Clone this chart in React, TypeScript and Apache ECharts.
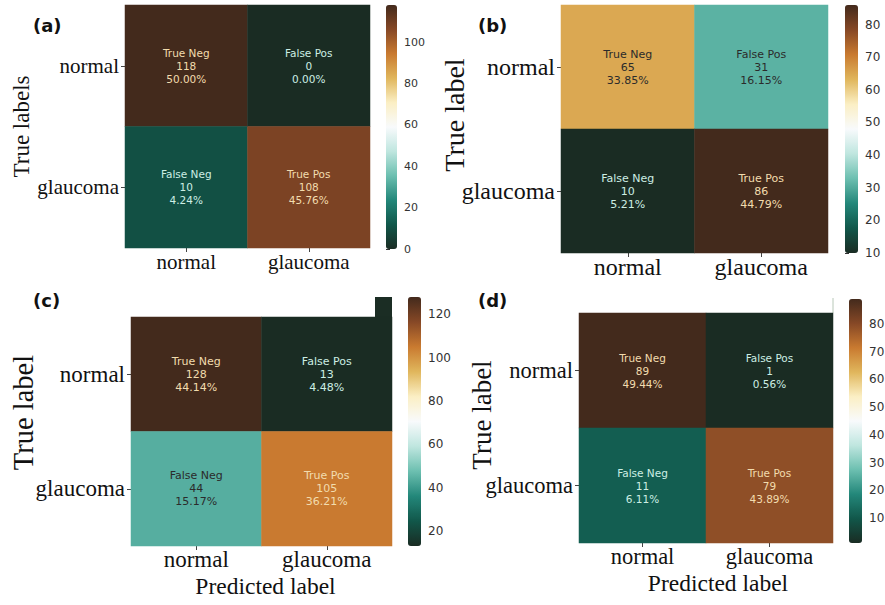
import React, { useEffect, useRef } from 'react';
import * as echarts from 'echarts';

const categories = ['normal', 'glaucoma'];
const cellNames = ['True Neg', 'False Pos', 'False Neg', 'True Pos'];
const countsA = [118, 0, 10, 108];
const countsB = [65, 31, 10, 86];
const countsC = [128, 13, 44, 105];
const countsD = [89, 1, 11, 79];
const ticksA = [0, 20, 40, 60, 80, 100];
const ticksB = [10, 20, 30, 40, 50, 60, 70, 80];
const ticksC = [20, 40, 60, 80, 100, 120];
const ticksD = [10, 20, 30, 40, 50, 60, 70, 80];
const panelLabels = ['(a)', '(b)', '(c)', '(d)'];
const yTitles = ['True labels', 'True label', 'True label', 'True label'];
const xTitles = ['', '', 'Predicted label', 'Predicted label'];

const palette = [
  '#1a2c23', '#11574a', '#23877a', '#6cbfb0', '#bfe6df', '#f8fafc',
  '#fbefc4', '#e0b65c', '#c97a30', '#864826', '#432a1c',
];

const panels = [
  { counts: countsA, ticks: ticksA },
  { counts: countsB, ticks: ticksB },
  { counts: countsC, ticks: ticksC },
  { counts: countsD, ticks: ticksD },
];

const layout = [
  { grid: { left: 125, top: 5, width: 245, height: 243 }, bar: { left: 386, top: 5, width: 11, height: 244 },
    tickFont: 21, yTitleFont: 23, yGap: 92, yShift: 0, cbFont: 11, annFont: 10.5, title: { left: 33, top: 16 }, xMargin: 3, xGap: 28, xShift: 0 },
  { grid: { left: 561, top: 5, width: 267, height: 248 }, bar: { left: 845, top: 5, width: 13, height: 248 },
    tickFont: 24, yTitleFont: 28, yGap: 93, yShift: 14, cbFont: 12, annFont: 11, title: { left: 478, top: 16 }, xMargin: 2, xGap: 28, xShift: 0 },
  { grid: { left: 131, top: 317, width: 261, height: 229 }, bar: { left: 408, top: 297, width: 13, height: 249 },
    tickFont: 23, yTitleFont: 28.5, yGap: 93, yShift: 19, cbFont: 12, annFont: 11, title: { left: 33, top: 291 }, xMargin: 2, xGap: 28, xShift: 4 },
  { grid: { left: 579, top: 313, width: 254, height: 230 }, bar: { left: 849, top: 299, width: 13, height: 244 },
    tickFont: 22.5, yTitleFont: 27, yGap: 84, yShift: 13, cbFont: 12, annFont: 10.5, title: { left: 478, top: 291 }, xMargin: 2, xGap: 28, xShift: 12 },
];

function textColor(t: number) {
  if (t >= 0.78) return '#f2dcae';
  if (t <= 0.2) return '#cdeee4';
  return '#2b2b2b';
}

export default function App() {
  const ref = useRef<HTMLDivElement>(null);
  useEffect(() => {
    if (!ref.current) return;
    const chart = echarts.init(ref.current, null, { renderer: 'svg' });
    const grids: any[] = [];
    const xAxes: any[] = [];
    const yAxes: any[] = [];
    const cbGrids: any[] = [];
    const cbX: any[] = [];
    const cbY: any[] = [];
    const series: any[] = [];
    const visualMaps: any[] = [];
    const titles: any[] = [];

    panels.forEach((p, i) => {
      const L = layout[i];
      const vmin = Math.min(...p.counts);
      const vmax = Math.max(...p.counts);
      const total = p.counts.reduce((a, b) => a + b, 0);
      grids.push({ ...L.grid, containLabel: false, outerBoundsMode: 'none' });
      xAxes.push({
        type: 'category', gridIndex: i, data: categories,
        axisLine: { show: false },
        axisTick: { show: true, alignWithLabel: true, length: 4, lineStyle: { color: '#444' } },
        axisLabel: { fontFamily: 'Liberation Serif', fontSize: L.tickFont, color: '#111', margin: L.xMargin },
        splitLine: { show: false },
        name: xTitles[i], nameLocation: 'middle', nameGap: L.xGap, nameMoveOverlap: false,
        nameTextStyle: { fontFamily: 'Liberation Serif', fontSize: 23.5, color: '#111', padding: [0, 0, 0, L.xShift * 2] },
      });
      yAxes.push({
        type: 'category', gridIndex: i, data: categories, inverse: true,
        axisLine: { show: false },
        axisTick: { show: true, alignWithLabel: true, length: 4, lineStyle: { color: '#444' } },
        axisLabel: { fontFamily: 'Liberation Serif', fontSize: L.tickFont, color: '#111', margin: 6 },
        splitLine: { show: false },
        name: yTitles[i], nameLocation: 'middle', nameGap: L.yGap, nameRotate: 90, nameMoveOverlap: false,
        nameTextStyle: { fontFamily: 'Liberation Serif', fontSize: L.yTitleFont, color: '#111', padding: [0, 0, 0, L.yShift * 2] },
      });
      const data = p.counts.map((v, k) => {
        const t = (v - vmin) / (vmax - vmin);
        return {
          value: [k % 2, Math.floor(k / 2), v],
          label: { color: textColor(t) },
          name: cellNames[k],
          pct: ((v / total) * 100).toFixed(2) + '%',
        };
      });
      series.push({
        type: 'heatmap', xAxisIndex: i, yAxisIndex: i,
        data,
        label: {
          show: true,
          fontFamily: 'DejaVu Sans', fontSize: L.annFont, lineHeight: 13,
          formatter: (prm: any) => `${prm.data.name}\n${prm.data.value[2]}\n${prm.data.pct}`,
        },
        emphasis: { disabled: true },
      });
      visualMaps.push({
        type: 'continuous', seriesIndex: i, min: vmin, max: vmax,
        calculable: false, hoverLink: false, orient: 'vertical',
        inRange: { color: palette },
        left: L.bar.left, top: L.bar.top, itemWidth: L.bar.width, itemHeight: L.bar.height,
        padding: 0,
      });
      cbGrids.push({ ...L.bar, containLabel: false, outerBoundsMode: 'none' });
      cbX.push({ type: 'value', gridIndex: 4 + i, show: false });
      cbY.push({
        type: 'value', gridIndex: 4 + i, min: vmin, max: vmax, position: 'right',
        axisLine: { show: false },
        axisTick: { show: true, length: 4, customValues: p.ticks, lineStyle: { color: '#333' } },
        axisLabel: { customValues: p.ticks, margin: 7, fontFamily: 'DejaVu Sans', fontSize: L.cbFont, color: '#333' },
        splitLine: { show: false },
      });
      titles.push({
        text: panelLabels[i], left: L.title.left, top: L.title.top, padding: 0,
        textStyle: { fontFamily: 'DejaVu Sans', fontSize: 18, fontWeight: 'bold', color: '#111' },
      });
    });

    chart.setOption({
      animation: false,
      backgroundColor: '#ffffff',
      title: titles,
      grid: grids.concat(cbGrids),
      xAxis: xAxes.concat(cbX),
      yAxis: yAxes.concat(cbY),
      visualMap: visualMaps,
      series,
      graphic: [
        { type: 'rect', shape: { x: 375, y: 297, width: 17, height: 20 }, style: { fill: '#1b2d24' } },
        { type: 'line', shape: { x1: 833, y1: 298, x2: 833, y2: 313 }, style: { stroke: '#b8c8b8', lineWidth: 1 } },
      ],
    });
    return () => chart.dispose();
  }, []);
  return <div ref={ref} style={{ position: 'absolute', left: 0, top: 0, width: 885, height: 605 }} />;
}
